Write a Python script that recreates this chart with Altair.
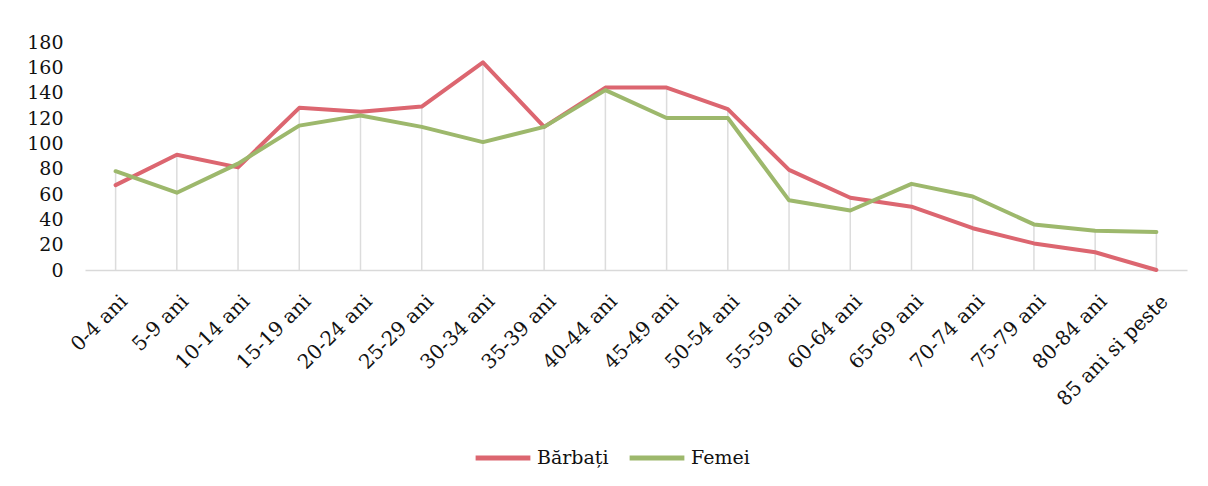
import altair as alt
import pandas as pd

categories = ["0-4 ani", "5-9 ani", "10-14 ani", "15-19 ani", "20-24 ani", "25-29 ani",
              "30-34 ani", "35-39 ani", "40-44 ani", "45-49 ani", "50-54 ani", "55-59 ani",
              "60-64 ani", "65-69 ani", "70-74 ani", "75-79 ani", "80-84 ani", "85 ani si peste"]
barbati = [67, 91, 81, 128, 125, 129, 164, 113, 144, 144, 127, 79, 57, 50, 33, 21, 14, 0]
femei = [78, 61, 84, 114, 122, 113, 101, 113, 142, 120, 120, 55, 47, 68, 58, 36, 31, 30]
series_names = ["Bărbați", "Femei"]
series_colors = ["#dc6670", "#9db86c"]
y_ticks = [0, 20, 40, 60, 80, 100, 120, 140, 160, 180]

rows = []
for i, c in enumerate(categories):
    rows.append({"cat": c, "serie": series_names[0], "val": barbati[i], "ord": 0})
    rows.append({"cat": c, "serie": series_names[1], "val": femei[i], "ord": 1})
df = pd.DataFrame(rows)
drop = pd.DataFrame({"cat": categories, "top": [max(a, b) for a, b in zip(barbati, femei)]})

FONT = "DejaVu Serif"

xscale = alt.Scale(type="point", padding=0.5)
xaxis = alt.Axis(labelAngle=-45, labelAlign="right", labelBaseline="top",
                 labelFont=FONT, labelFontSize=20, labelColor="#111",
                 labelOverlap=False, labelBound=False, labelOffset=1,
                 ticks=False, domain=True, domainColor="#d9d9d9", domainWidth=1.5,
                 labelPadding=21, grid=False)
yscale = alt.Scale(domain=[0, 180], nice=False)
yaxis = alt.Axis(values=y_ticks, labelFont=FONT, labelFontSize=19, labelColor="#111",
                 labelOverlap=False, labelBound=False, tickCount=10,
                 ticks=False, domain=False, grid=False, labelPadding=22)

rules = alt.Chart(drop).mark_rule(color="#dcdcdc", strokeWidth=1.5).encode(
    x=alt.X("cat:N", sort=categories, title=None, scale=xscale, axis=xaxis),
    y=alt.Y("top:Q", scale=yscale, title=None, axis=yaxis),
    y2=alt.datum(0),
)

lines = alt.Chart(df).mark_line(strokeWidth=4, strokeJoin="round", strokeCap="round").encode(
    x=alt.X("cat:N", sort=categories, title=None, scale=xscale, axis=xaxis),
    y=alt.Y("val:Q", scale=yscale, title=None, axis=yaxis),
    color=alt.Color("serie:N", sort=series_names,
                    scale=alt.Scale(domain=series_names, range=series_colors),
                    legend=alt.Legend(title=None, orient="none", legendX=388, legendY=386,
                                      direction="horizontal", symbolType="stroke",
                                      symbolStrokeWidth=5, symbolSize=3000,
                                      labelFont=FONT, labelFontSize=19, labelColor="#111",
                                      labelOffset=4, columnPadding=10)),
    order="ord:O",
)

chart = alt.layer(rules, lines).properties(
    width=1102, height=228,
    background="white",
    padding={"left": 77, "top": 34, "right": 13, "bottom": 200},
    autosize=alt.AutoSizeParams(type="none"),
).configure_view(strokeWidth=0, stroke="transparent")

chart.save("out.html", embed_options={"renderer": "svg", "actions": False})
